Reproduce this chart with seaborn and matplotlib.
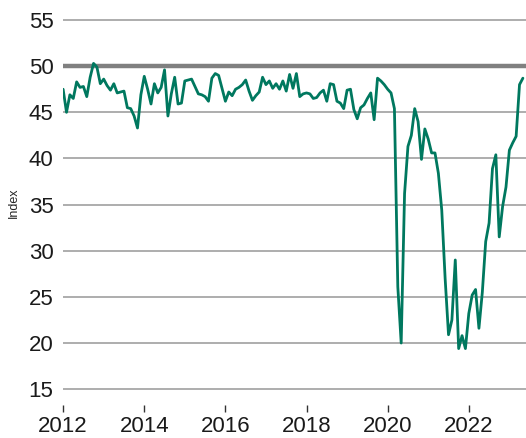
import numpy as np
import pandas as pd
import seaborn as sns
import matplotlib.pyplot as plt

# monthly index values, Jan 2012 .. May 2023
vals_2012 = [47.5, 45.0, 46.9, 46.5, 48.3, 47.7, 47.8, 46.7, 48.8, 50.3, 49.9, 48.1]
vals_2013 = [48.6, 47.9, 47.4, 48.1, 47.1, 47.2, 47.3, 45.5, 45.4, 44.6, 43.3, 46.9]
vals_2014 = [48.9, 47.5, 45.9, 48.1, 47.1, 47.7, 49.6, 44.6, 47.0, 48.8, 45.9, 46.0]
vals_2015 = [48.4, 48.5, 48.6, 47.8, 47.0, 46.9, 46.7, 46.2, 48.7, 49.2, 49.0, 47.6]
vals_2016 = [46.2, 47.2, 46.8, 47.5, 47.7, 48.0, 48.5, 47.3, 46.3, 46.8, 47.2, 48.8]
vals_2017 = [48.0, 48.4, 47.6, 48.1, 47.5, 48.4, 47.3, 49.1, 47.6, 49.2, 46.7, 47.0]
vals_2018 = [47.1, 47.0, 46.5, 46.6, 47.1, 47.4, 46.2, 48.1, 48.0, 46.2, 46.0, 45.4]
vals_2019 = [47.4, 47.5, 45.3, 44.3, 45.5, 45.8, 46.5, 47.1, 44.2, 48.7, 48.4, 48.0]
vals_2020 = [47.5, 47.1, 45.4, 26.1, 20.0, 36.2, 41.3, 42.5, 45.4, 44.0, 39.9, 43.2]
vals_2021 = [42.1, 40.6, 40.6, 38.4, 34.4, 27.0, 20.9, 22.5, 29.0, 19.4, 20.8, 19.4]
vals_2022 = [23.2, 25.2, 25.8, 21.6, 25.5, 31.0, 33.0, 38.9, 40.4, 31.5, 34.8, 36.9]
vals_2023 = [40.9, 41.7, 42.4, 48.0, 48.7]

year_ticks = [2012, 2014, 2016, 2018, 2020, 2022]
y_ticks = [15, 20, 25, 30, 35, 40, 45, 50, 55]

values = (vals_2012 + vals_2013 + vals_2014 + vals_2015 + vals_2016 + vals_2017
          + vals_2018 + vals_2019 + vals_2020 + vals_2021 + vals_2022 + vals_2023)
df = pd.DataFrame({
    "t": 2012 + np.arange(len(values)) / 12,
    "Index": values,
})

sns.set_style("white")
plt.rcParams['font.family'] = ['Liberation Sans', 'DejaVu Sans']

fig = plt.figure(figsize=(5.26, 4.38), dpi=100)
ax = fig.add_axes([0.12, 0.075, 0.88, 0.925])

# horizontal grid lines, the 50 line drawn heavier
for y in y_ticks:
    if y == 50:
        ax.axhline(y, color='#808080', lw=3.2, zorder=1)
    else:
        ax.axhline(y, color='#a0a0a0', lw=1.2, zorder=1)

sns.lineplot(data=df, x="t", y="Index", color='#00785f', lw=2.0, ax=ax, zorder=3)

ax.set_xlim(2012, 2023.41)
ax.set_ylim(13.27, 57.17)
ax.set_xticks(year_ticks)
ax.set_xticklabels([str(y) for y in year_ticks])
ax.set_yticks(y_ticks)
ax.set_xlabel("")
ax.set_ylabel("Index", fontsize=9, labelpad=6)

for s in ax.spines.values():
    s.set_visible(False)
ax.tick_params(axis='y', length=0, labelsize=16, pad=7, colors='#1a1a1a')
ax.tick_params(axis='x', length=5, width=1, labelsize=16, pad=3,
               colors='#1a1a1a', direction='out', bottom=True)
ax.tick_params(axis='x', color='#333333')

fig.savefig("out.png", dpi=100)
